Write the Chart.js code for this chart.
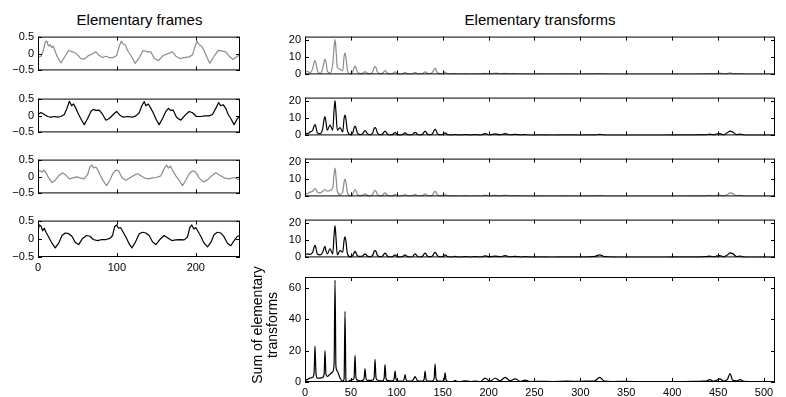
<!DOCTYPE html>
<html>
<head>
<meta charset="utf-8">
<script src="https://cdn.jsdelivr.net/npm/chart.js@4.4.0/dist/chart.umd.min.js"></script>
<style>
  body { margin: 0; background: #fff; width: 786px; height: 397px; overflow: hidden; position: relative;
         font-family: 'Liberation Sans', Arial, sans-serif; color: #000; }
  canvas { position: absolute; }
  .title { position: absolute; top: 12px; width: 200px; text-align: center; font-size: 15px; line-height: 15px; }
</style>
</head>
<body>
<div class="title" style="left:39.5px">Elementary frames</div>
<div class="title" style="left:440px">Elementary transforms</div>
<script>
// ---------------------------------------------------------------------------
// DATA
// ---------------------------------------------------------------------------

// Elementary frames (time domain, 256 samples)
const frame1X = [0, 3.8, 6.8, 9.3, 11.4, 13.1, 15.2, 17.3, 19.4, 21.9, 24.9, 29.1, 33.3, 38.8, 43.9, 48.9, 54.4, 58.6, 64.1, 69.2,
  73.4, 77.6, 81.9, 86.1, 90.3, 95.4, 99.6, 103, 105.5, 108, 110.5, 113.5, 117.7, 123.2, 128.3, 133.3, 138.8, 143, 147.3, 152.7,
  158.6, 164.1, 170.5, 174.7, 179.7, 185.2, 191.6, 195.8, 199.2, 201.7, 204.2, 207.2, 210.5, 213.5, 217.7, 223.2, 228.7, 233.8,
  238, 242.2, 247.3, 252.7, 255.7];
const frame1Y = [-0.12, -0.08, 0.09, 0.35, 0.36, 0.22, 0.26, 0.18, 0.22, 0.05, -0.12, -0.28, -0.12, 0.09, 0.05, -0.01, -0.15, -0.17, -0.06, -0.01,
  0.05, -0.06, -0.12, -0.08, -0.12, -0.12, -0.06, 0.22, 0.36, 0.28, 0.26, 0.09, -0.06, -0.29, -0.12, 0.09, 0.05, 0.05, -0.15, -0.21,
  -0.06, -0.01, 0.05, -0.08, -0.15, -0.12, -0.10, -0.04, 0.22, 0.36, 0.26, 0.22, 0.09, -0.08, -0.29, -0.08, 0.09, 0.07,
  0.05, -0.08, -0.18, -0.08, -0.04];

const frame2X = [0, 3.8, 8, 12.2, 16.5, 20.7, 24.9, 29.1, 33.3, 36.7, 39.7, 42.6, 45.1, 48.1, 51.5, 55.3, 58.6, 62.9, 67.1, 70,
  73.4, 77.6, 81.9, 86.1, 90.3, 95.4, 99.6, 103.8, 108, 113.5, 119.8, 124, 128.3, 131.6, 134.6, 136.7, 139.7, 143, 146, 150.2,
  153.6, 157.8, 162, 165.4, 168.4, 171.3, 175.5, 181, 186.5, 191.6, 195.8, 200.8, 206.3, 211.8, 216.9, 221.1, 225.3, 228.7,
  231.6, 234.6, 238, 241, 244.3, 248.5, 252.7, 255.7];
const frame2Y = [0.03, 0.09, 0.03, -0.03, -0.05, -0.03, -0.05, -0.03, 0.03, 0.21, 0.42, 0.29, 0.34, 0.21, 0.03, -0.14, -0.27, -0.09, 0.12, 0.18,
  0.15, 0.16, 0.03, -0.14, -0.09, 0.03, 0.12, 0.01, -0.05, -0.03, -0.05, -0.01, 0.08, 0.29, 0.41, 0.29, 0.34, 0.21, 0.08, -0.14,
  -0.27, -0.09, 0.12, 0.21, 0.15, 0.16, -0.05, -0.14, 0.01, 0.12, 0.08, -0.03, -0.03, -0.01, -0.01, 0.03, 0.21, 0.38,
  0.29, 0.32, 0.21, 0.03, -0.09, -0.27, -0.09, -0.03];

const frame3X = [0, 2.5, 5.1, 7.6, 10.1, 13.5, 17.7, 21.9, 26.2, 31.2, 35.4, 39.7, 44.7, 48.9, 53.2, 58.6, 62.9, 65.8, 68.4, 70.5,
  73.4, 75.9, 78.5, 81.9, 86.9, 91.1, 95.4, 98.7, 102.1, 106.3, 111.4, 116.5, 121.9, 126.2, 130.4, 134.6, 140.1, 145.1, 150.2, 155.7,
  159.9, 162.9, 165.4, 167.9, 171.3, 174.7, 178.9, 183.1, 187.3, 191.6, 195.8, 200, 204.2, 209.3, 214.8, 221.1, 225.3, 230.4,
  235.9, 242.2, 248.5, 255.7];
const frame3Y = [0.15, 0.17, 0.13, 0.19, 0.11, -0.04, -0.18, -0.11, 0.02, 0.11, 0.04, -0.07, -0.04, -0.01, -0.04, -0.07, 0.06, 0.28, 0.34, 0.25,
  0.28, 0.19, 0.06, -0.10, -0.27, -0.11, 0.11, 0.19, 0.17, -0.03, -0.11, -0.04, 0.04, 0.08, 0.02, -0.04, -0.07, -0.04, -0.03, 0.02,
  0.24, 0.34, 0.25, 0.31, 0.15, 0.02, -0.11, -0.27, -0.11, 0.08, 0.17, 0.13, -0.04, -0.16, -0.10, 0.04, 0.11, 0.04,
  -0.04, -0.07, -0.03, -0.10];

const frame4X = [0, 1.7, 3.8, 5.9, 8, 10.1, 13.5, 17.7, 21.9, 26.2, 30.4, 34.6, 38.8, 43, 47.3, 51.5, 56.5, 61.6, 65.8, 70,
  75.5, 81, 86.1, 91.1, 94.5, 97, 99.6, 102.1, 104.6, 108, 111.4, 115.6, 119, 123.2, 128.3, 132.5, 136.7, 140.9, 145.1, 149.4,
  154.4, 159.9, 164.1, 169.6, 174.7, 179.7, 185.2, 189.5, 192.4, 194.9, 197.5, 200, 203.4, 206.8, 210.5, 214.8, 219, 223.2,
  227.4, 231.6, 235.9, 240.1, 244.3, 248.5, 252.7, 255.7];
const frame4Y = [0.22, 0.38, 0.35, 0.22, 0.29, 0.18, 0.05, -0.12, -0.25, -0.12, 0.09, 0.16, 0.14, 0.07, -0.10, -0.16, 0.01, 0.09, 0.07, -0.02,
  -0.05, -0.02, -0.02, 0.01, 0.09, 0.33, 0.38, 0.29, 0.31, 0.18, 0.05, -0.14, -0.25, -0.10, 0.14, 0.18, 0.16, 0.09, -0.08, -0.16,
  -0.02, 0.09, 0.03, -0.05, -0.03, -0.02, -0.03, 0.05, 0.31, 0.38, 0.27, 0.31, 0.18, 0.05, -0.12, -0.22, -0.10, 0.12,
  0.18, 0.16, 0.05, -0.12, -0.19, -0.05, 0.07, 0.09];

// Frequency bins shared by all transforms (dense around the harmonics, sparse in the tail)
const specX = [0, 2.5, 5.5,
  8.4, 9.9, 10.9, 11.9, 13.4, 16.35,
  19.3, 20.8, 21.8, 22.8, 24.3, 27.25,
  30.2, 31.7, 32.7, 33.7, 35.2, 38.15,
  41.1, 42.6, 43.6, 44.6, 46.1, 49.05,
  52, 53.5, 54.5, 55.5, 57, 59.95,
  62.9, 64.4, 65.4, 66.4, 67.9, 70.85,
  73.8, 75.3, 76.3, 77.3, 78.8, 81.75,
  84.7, 86.2, 87.2, 88.2, 89.7, 92.65,
  95.6, 97.1, 98.1, 99.1, 100.6, 103.55,
  106.5, 108, 109, 110, 111.5, 114.45,
  117.4, 118.9, 119.9, 120.9, 122.4, 125.35,
  128.3, 129.8, 130.8, 131.8, 133.3, 136.25,
  139.2, 140.7, 141.7, 142.7, 144.2, 147.15,
  150.1, 151.6, 152.6, 153.6, 155.1, 158.05,
  161, 162.5, 163.5, 164.5, 166,
  170, 174.4, 180, 185.3, 191, 196.2, 201.5, 207.1, 212.5, 218, 223.5, 228.9, 234.5, 239.8, 245,
  255, 270, 285, 300, 310, 316, 321, 326, 335, 350, 370, 390, 410, 425, 433,
  437, 441, 445, 448, 452, 456, 460, 463, 466, 470, 474, 478, 485, 495, 505, 512];

const trans1 = [1.2, 1.8, 1,
  3.5, 7, 8, 6.5, 2.5, 0.5,
  3.5, 7.5, 8.9, 7.5, 2, 0.8,
  6, 16, 20.3, 15, 4, 3,
  2, 10.5, 12.4, 10, 3, 0.3,
  1.5, 4, 4.9, 4, 1.5, 0.5,
  0.6, 1.3, 1.6, 1.3, 0.6, 0.3,
  1.5, 4, 4.7, 4, 1.5, 0.3,
  0.8, 1.8, 2.2, 1.8, 0.8, 0.2,
  0.5, 1.2, 1.5, 1.2, 0.5, 0.2,
  0.4, 1, 1.2, 1, 0.4, 0.2,
  0.4, 1, 1.2, 1, 0.4, 0.2,
  0.5, 1.3, 1.5, 1.3, 0.6, 0.4,
  1.5, 3, 3.5, 2.8, 1, 0.4,
  0.5, 1.2, 1.4, 1, 0.4, 0.2,
  0.2, 0.4, 0.5, 0.4, 0.2,
  0.1, 0.3, 0.1, 0.3, 0.1, 0.6, 0.2, 0.8, 0.3, 0.6, 0.2, 0.4, 0.1, 0.3, 0.1,
  0.2, 0.1, 0.2, 0.1, 0.2, 0.2, 0.5, 0.2, 0.1, 0.1, 0.1, 0.1, 0.1, 0.1, 0.2,
  0.2, 0.5, 0.2, 0.4, 0.7, 0.3, 0.5, 0.9, 0.4, 0.3, 0.5, 0.1, 0.1, 0.1, 0.1, 0.1];

const trans2 = [1.5, 1, 2,
  3, 5.5, 6.3, 5, 1.5, 1,
  4, 9.5, 10.9, 8, 3, 6,
  3, 15, 20.3, 14, 3, 4.5,
  2, 10, 11.8, 9.5, 3, 0.5,
  1.5, 4.5, 5.4, 4.5, 1.5, 0.5,
  1, 2.3, 2.8, 2.3, 1, 0.3,
  1.5, 4, 4.6, 4, 1.5, 0.3,
  1, 2, 2.5, 2, 0.8, 0.2,
  0.6, 1.3, 1.6, 1.3, 0.6, 0.2,
  0.5, 1.2, 1.5, 1.2, 0.5, 0.2,
  0.6, 1.5, 1.8, 1.5, 0.6, 0.2,
  0.8, 2, 2.5, 2, 0.8, 0.3,
  1.2, 3, 3.5, 3, 1, 0.3,
  0.5, 1.2, 1.5, 1.2, 0.5, 0.2,
  0.2, 0.4, 0.5, 0.4, 0.2,
  0.2, 0.5, 0.2, 0.5, 0.2, 1, 0.3, 0.9, 0.3, 1, 0.3, 0.6, 0.2, 0.4, 0.1,
  0.2, 0.1, 0.2, 0.1, 0.2, 0.2, 0.6, 0.2, 0.1, 0.1, 0.1, 0.1, 0.2, 0.2, 0.3,
  0.3, 0.8, 0.3, 0.8, 1, 0.3, 1.5, 2.5, 2, 0.5, 0.8, 0.2, 0.1, 0.1, 0.1, 0.1];

const trans3 = [2, 1.5, 2.5,
  3, 4.2, 4.5, 4, 2.5, 2,
  3, 3.8, 4, 3.5, 3, 3.5,
  5, 13, 16.5, 12, 3, 1,
  2.5, 8.5, 10, 8, 2.5, 0.3,
  1.2, 3.3, 4, 3.3, 1.2, 0.5,
  0.6, 1.2, 1.5, 1.2, 0.6, 0.3,
  1.2, 3, 3.5, 3, 1.2, 0.3,
  0.7, 1.7, 2, 1.7, 0.7, 0.2,
  0.4, 1, 1.2, 1, 0.4, 0.2,
  0.4, 0.8, 1, 0.8, 0.4, 0.2,
  0.4, 1, 1.2, 1, 0.4, 0.2,
  0.5, 1.2, 1.5, 1.2, 0.5, 0.3,
  1, 2.5, 3, 2.5, 1, 0.3,
  0.4, 0.8, 1, 0.8, 0.4, 0.2,
  0.2, 0.3, 0.4, 0.3, 0.2,
  0.1, 0.3, 0.1, 0.3, 0.1, 0.7, 0.2, 0.6, 0.2, 0.8, 0.2, 0.5, 0.1, 0.3, 0.1,
  0.2, 0.1, 0.2, 0.1, 0.2, 0.2, 0.5, 0.2, 0.1, 0.1, 0.1, 0.1, 0.1, 0.2, 0.2,
  0.3, 0.6, 0.2, 0.5, 0.8, 0.3, 1, 2, 1.6, 0.4, 0.6, 0.1, 0.1, 0.1, 0.1, 0.1];

const trans4 = [1.5, 2, 1.8,
  3, 6, 7, 5.5, 2, 1.5,
  3, 5.5, 6.5, 4, 2, 5,
  2, 13, 18.5, 12, 1.5, 4,
  3, 10, 12, 9.5, 2.5, 0.3,
  1, 2.8, 3.5, 2.8, 1, 0.6,
  0.8, 1.7, 2, 1.7, 0.8, 0.3,
  1.3, 3.5, 4, 3.5, 1.3, 0.3,
  0.8, 2, 2.5, 2, 0.8, 0.2,
  0.5, 1.2, 1.5, 1.2, 0.5, 0.2,
  0.5, 1.2, 1.5, 1.2, 0.5, 0.2,
  0.6, 1.6, 2, 1.6, 0.6, 0.2,
  0.8, 2, 2.5, 2, 0.8, 0.3,
  1, 2.5, 3, 2.5, 1, 0.3,
  0.5, 1.2, 1.5, 1.2, 0.5, 0.2,
  0.2, 0.5, 0.6, 0.5, 0.2,
  0.2, 0.5, 0.2, 0.5, 0.2, 0.9, 0.3, 0.8, 0.3, 1, 0.3, 0.6, 0.2, 0.4, 0.2,
  0.2, 0.1, 0.2, 0.2, 0.3, 0.6, 1.5, 0.5, 0.2, 0.1, 0.1, 0.1, 0.2, 0.2, 0.3,
  0.4, 0.8, 0.3, 0.7, 1, 0.3, 1.4, 2.6, 2.2, 0.5, 0.8, 0.2, 0.1, 0.1, 0.1, 0.1];

const transSum = [1, 1.5, 2.5,
  3, 6, 23, 6, 2.5, 2.5,
  3, 5, 20, 5, 3.5, 5,
  6.5, 12, 65, 10, 7, 2.5,
  0.5, 2, 45, 1, 0.3, 1,
  1.5, 3, 17, 3, 1.2, 0.8,
  1, 2.5, 8.4, 2.5, 1, 1,
  1.2, 3, 14.4, 3, 1.2, 0.8,
  0.8, 2.5, 11.1, 2.5, 1, 0.8,
  0.8, 2, 6.9, 2, 0.8, 0.6,
  0.6, 1.8, 4.7, 1.8, 0.6, 0.5,
  1, 2.5, 3.4, 2.5, 1, 0.5,
  0.6, 1.8, 6.9, 1.8, 0.6, 0.5,
  0.8, 2.5, 11.4, 2.5, 0.8, 0.5,
  0.5, 1.5, 5.8, 1.5, 0.5, 0.3,
  0.3, 0.6, 1, 0.6, 0.3,
  0.3, 0.8, 0.3, 0.6, 0.3, 2.5, 0.6, 2.4, 0.8, 3, 0.8, 2, 0.4, 1.2, 0.3,
  0.4, 0.3, 0.5, 0.4, 0.6, 0.8, 3, 0.6, 0.3, 0.4, 0.2, 0.3, 0.3, 0.4, 0.5,
  0.6, 1.5, 0.5, 1, 2, 0.6, 1.5, 5.4, 1, 0.8, 1.5, 0.4, 0.3, 0.2, 0.2, 0.2];

// Tick values
const frameXTicks = [0, 100, 200];
const frameYTicks = [-0.5, 0, 0.5];
const transXTicks = [0, 50, 100, 150, 200, 250, 300, 350, 400, 450, 500];
const transYTicks = [0, 10, 20];
const sumYTicks = [0, 20, 40, 60];

const sumLabel = ['Sum of elementary', 'transforms'];

// ---------------------------------------------------------------------------
// CHART SETUP
// ---------------------------------------------------------------------------

Chart.defaults.font.family = "'Liberation Sans', Arial, sans-serif";
Chart.defaults.font.size = 11;
Chart.defaults.color = '#000';

const GRAY = '#8c8c8c';
const BLACK = '#000000';

function zip(xs, ys) {
  return xs.map((x, i) => ({ x: x, y: ys[i] }));
}

function tickLabel(v) {
  return v < 0 ? '\u2212' + Math.abs(v) : String(v);
}

// MATLAB style box with inward tick marks
const boxTicks = {
  id: 'boxTicks',
  afterDatasetsDraw(chart, args, opts) {
    const { ctx, chartArea: a, scales } = chart;
    const len = opts.len;
    ctx.save();
    ctx.strokeStyle = '#000';
    ctx.lineWidth = 1;
    ctx.beginPath();
    opts.x.forEach(v => {
      const px = Math.round(scales.x.getPixelForValue(v)) + 0.5;
      ctx.moveTo(px, a.top); ctx.lineTo(px, a.top + len);
      ctx.moveTo(px, a.bottom); ctx.lineTo(px, a.bottom - len);
    });
    opts.y.forEach(v => {
      const py = Math.round(scales.y.getPixelForValue(v)) + 0.5;
      ctx.moveTo(a.left, py); ctx.lineTo(a.left + len, py);
      ctx.moveTo(a.right, py); ctx.lineTo(a.right - len, py);
    });
    ctx.stroke();
    ctx.strokeRect(a.left + 0.5, a.top + 0.5, a.right - a.left - 1, a.bottom - a.top - 1);
    ctx.restore();
  }
};

// rotated two-line y label (only used by the sum panel)
const yLabel = {
  id: 'yLabel',
  afterDraw(chart, args, opts) {
    if (!opts.lines) return;
    const ctx = chart.ctx;
    ctx.save();
    ctx.translate(opts.x, opts.y);
    ctx.rotate(-Math.PI / 2);
    ctx.font = "14px 'Liberation Sans', Arial, sans-serif";
    ctx.fillStyle = '#000';
    ctx.textAlign = 'center';
    ctx.textBaseline = 'middle';
    opts.lines.forEach((t, i) => ctx.fillText(t, 0, i * 15));
    ctx.restore();
  }
};

function makePanel(o) {
  const cv = document.createElement('canvas');
  cv.width = o.w;
  cv.height = o.h;
  cv.style.left = o.left + 'px';
  cv.style.top = o.top + 'px';
  document.body.appendChild(cv);
  const padT = o.padT || 8;

  return new Chart(cv, {
    type: 'line',
    data: {
      datasets: [{
        data: zip(o.xs, o.ys),
        borderColor: o.color,
        borderWidth: 1.2,
        borderJoinStyle: 'round',
        pointRadius: 0,
        tension: 0,
        cubicInterpolationMode: o.smooth ? 'monotone' : 'default'
      }]
    },
    options: {
      responsive: false,
      devicePixelRatio: 1,
      animation: false,
      layout: {
        autoPadding: false,
        padding: { left: 0, right: o.padR, top: padT, bottom: o.xH ? 0 : 8 }
      },
      plugins: {
        legend: { display: false },
        tooltip: { enabled: false },
        boxTicks: { x: o.xTicks, y: o.yTicks, len: 4 },
        yLabel: o.label || {}
      },
      scales: {
        x: {
          type: 'linear',
          min: o.xMin,
          max: o.xMax,
          display: !!o.xH,
          grid: { display: false, drawTicks: false },
          border: { display: false },
          ticks: { padding: 4, maxRotation: 0, autoSkip: false, callback: tickLabel },
          afterBuildTicks: s => { s.ticks = o.xTicks.map(v => ({ value: v })); },
          afterFit: s => { s.height = o.xH; }
        },
        y: {
          type: 'linear',
          min: o.yMin,
          max: o.yMax,
          grid: { display: false, drawTicks: false },
          border: { display: false },
          ticks: { padding: 4, callback: tickLabel },
          afterBuildTicks: s => { s.ticks = o.yTicks.map(v => ({ value: v })); },
          afterFit: s => { s.width = o.padL; }
        }
      }
    },
    plugins: [boxTicks, yLabel]
  });
}

// ---------------------------------------------------------------------------
// LEFT COLUMN: ELEMENTARY FRAMES
// ---------------------------------------------------------------------------

const frameSeries = [[frame1X, frame1Y, GRAY], [frame2X, frame2Y, BLACK], [frame3X, frame3Y, GRAY], [frame4X, frame4Y, BLACK]];
const frameTops = [26, 88, 149, 210];

frameSeries.forEach((s, i) => {
  const last = i === frameSeries.length - 1;
  makePanel({
    left: 0, top: frameTops[i], w: 246, h: last ? 67 : 55,
    padL: 38, padR: 6, xH: last ? 20 : 0,
    xs: s[0], ys: s[1], color: s[2], smooth: false,
    xMin: 0, xMax: 256, yMin: -0.5, yMax: 0.5,
    xTicks: frameXTicks, yTicks: frameYTicks
  });
});

// ---------------------------------------------------------------------------
// RIGHT COLUMN: ELEMENTARY TRANSFORMS + SUM
// ---------------------------------------------------------------------------

const transSeries = [[trans1, GRAY], [trans2, BLACK], [trans3, GRAY], [trans4, BLACK]];
const transTops = [26, 87, 148, 209];

transSeries.forEach((s, i) => {
  makePanel({
    left: 262, top: transTops[i], w: 521, h: 59,
    padL: 43, padR: 8, xH: 0,
    xs: specX, ys: s[0], color: s[1], smooth: true,
    xMin: 0, xMax: 512, yMin: 0, yMax: 22,
    xTicks: transXTicks, yTicks: transYTicks
  });
});

makePanel({
  left: 245, top: 259, w: 538, h: 138,
  padL: 60, padR: 8, padT: 18, xH: 15,
  xs: specX, ys: transSum, color: BLACK, smooth: true,
  xMin: 0, xMax: 512, yMin: 0, yMax: 67,
  xTicks: transXTicks, yTicks: sumYTicks,
  label: { lines: sumLabel, x: 13, y: 66 }
});
</script>
</body>
</html>
